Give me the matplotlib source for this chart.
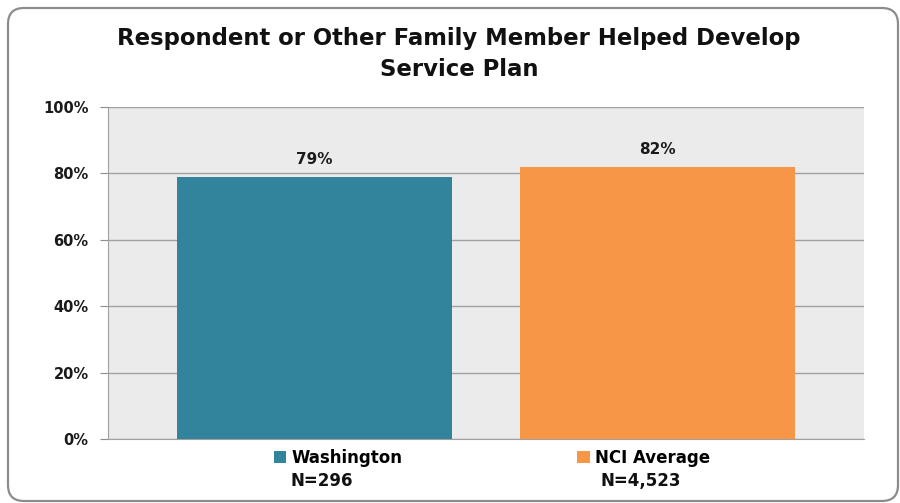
import matplotlib

matplotlib.use("Agg")

import matplotlib.pyplot as plt
from matplotlib.patches import FancyBboxPatch

# chart data
groups = ["Washington", "NCI Average"]
sample_sizes = ["N=296", "N=4,523"]
values = [79, 82]
colors = ["#31849B", "#F79646"]
title = "Respondent or Other Family Member Helped Develop\nService Plan"

fig = plt.figure(figsize=(9, 5.03), dpi=100)

# rounded outer frame drawn in pixel coordinates
frame_ax = fig.add_axes([0, 0, 1, 1], zorder=-1)
frame_ax.set_xlim(0, 900)
frame_ax.set_ylim(503, 0)
frame_ax.axis("off")
frame_ax.add_patch(
    FancyBboxPatch(
        (8, 8), 890, 493,
        boxstyle="round,pad=0,rounding_size=16",
        facecolor="white", edgecolor="#8C8C8C", linewidth=1.6,
    )
)

ax = fig.add_axes([108 / 900, 64 / 503, 756 / 900, 332 / 503])
ax.set_facecolor("#EBEBEB")

positions = list(range(len(groups)))
bars = ax.bar(positions, values, width=0.8, color=colors, zorder=3)

for pos, val in zip(positions, values):
    ax.annotate(f"{val}%", (pos, val), xytext=(0, 7), textcoords="offset points",
                ha="center", va="bottom", fontsize=11, fontweight="bold", color="#1A1A1A")

ax.set_xlim(-0.602, 1.602)
ax.set_ylim(0, 100)
ax.set_yticks(range(0, 101, 20))
ax.set_yticklabels([f"{t}%" for t in range(0, 101, 20)])
ax.set_xticks([])
ax.tick_params(axis="y", length=6, color="#8C8C8C", pad=8, labelsize=10.5)
for label in ax.get_yticklabels():
    label.set_fontweight("bold")
    label.set_color("#1A1A1A")
ax.yaxis.grid(True, color="#A0A0A0", linewidth=1, zorder=1)
ax.set_axisbelow(True)
ax.spines["top"].set_visible(False)
ax.spines["right"].set_visible(False)
ax.spines["left"].set_color("#A0A0A0")
ax.spines["bottom"].set_color("#A0A0A0")

fig.text(459 / 900, 1 - 54 / 503, title, ha="center", va="center",
         fontsize=16.4, fontweight="bold", linespacing=1.4, color="#111111")

ax.legend(bars, groups, ncol=2, loc="center", bbox_to_anchor=(492 / 900, 1 - 458 / 503),
          bbox_transform=fig.transFigure, frameon=False, handlelength=0.75, handleheight=0.75,
          handletextpad=0.3, columnspacing=10.5, prop={"weight": "bold", "size": 12})

fig.text(290 / 900, 1 - 481 / 503, sample_sizes[0], ha="left", va="center",
         fontsize=12, fontweight="bold", color="#111111")
fig.text(600 / 900, 1 - 481 / 503, sample_sizes[1], ha="left", va="center",
         fontsize=12, fontweight="bold", color="#111111")

fig.savefig("out.png", dpi=100)
plt.close(fig)
